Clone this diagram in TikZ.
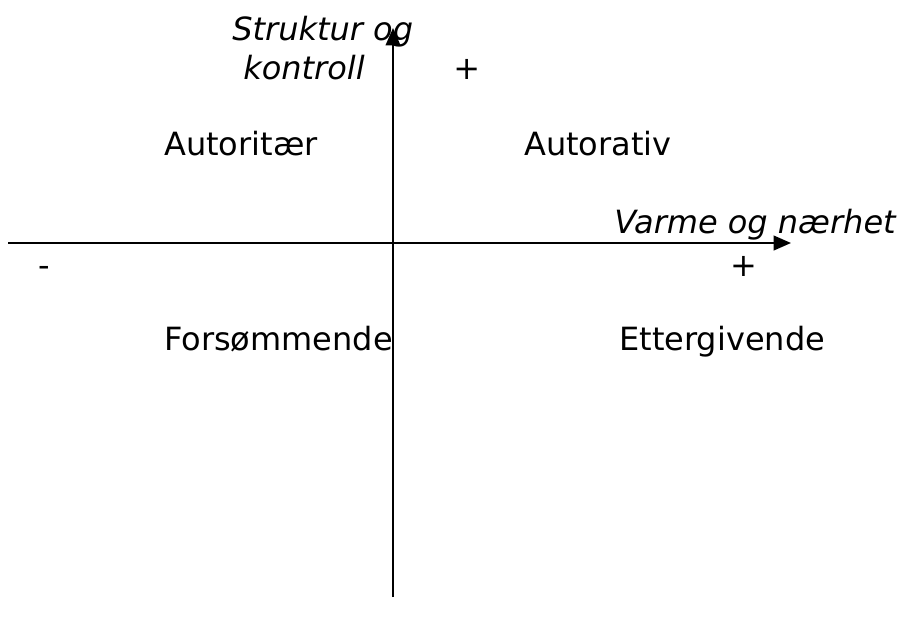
\documentclass[tikz,border=0pt]{standalone}
\usepackage{fontspec}
\setmainfont{DejaVu Sans}
\usetikzlibrary{arrows.meta}
\begin{document}
\begin{tikzpicture}[x=0.75pt,y=-0.75pt,
  lbl/.style={inner sep=0pt,anchor=base west,font=\fontsize{24pt}{29pt}\selectfont},
  ilbl/.style={lbl,font=\fontsize{24pt}{29pt}\selectfont\itshape},
  axis/.style={draw=black,-{Triangle[length=13pt,width=11pt]}}]
\useasboundingbox (0,0) rectangle (899,625);
\coordinate (xs) at (8,243);
\coordinate (xe) at (791,243);
\coordinate (ys) at (393,597);
\coordinate (ye) at (393,28);
\draw[axis,line width=1.5pt] (xs) -- (xe);
\draw[axis,line width=1.1pt] (ys) -- (ye);
\node[ilbl] (s1) at (232,40) {Struktur og};
\node[ilbl] (s2) at (243,79) {kontroll};
\node[ilbl] (pp) at (453,79) {+};
\node[lbl] (a1) at (164,155) {Autoritær};
\node[lbl] (a2) at (524,155) {Autorativ};
\node[ilbl] (v) at (614,233) {Varme og nærhet};
\node[lbl] (mn) at (38,276) {-};
\node[lbl] (pl) at (730,276) {+};
\node[lbl] (f) at (164,350) {Forsømmende};
\node[lbl] (e) at (619,350) {Ettergivende};
\end{tikzpicture}
\end{document}
